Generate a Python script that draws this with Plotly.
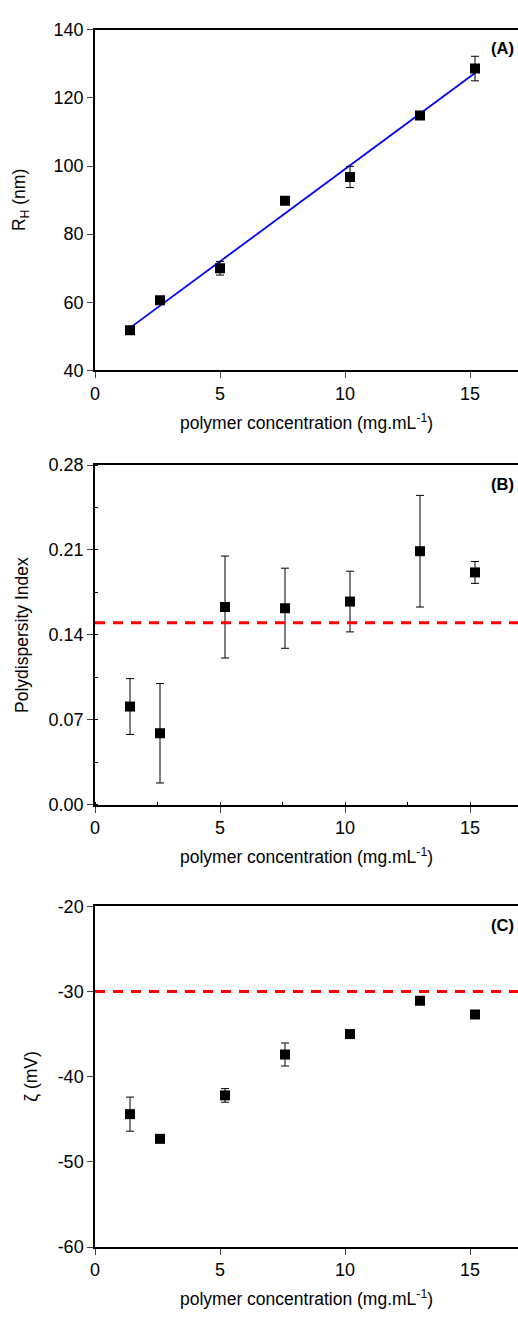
import numpy as np
import plotly.graph_objects as go

# ---- data ----
conc_a = [1.4, 2.6, 5.0, 7.6, 10.2, 13.0, 15.2]
rh = [51.8, 60.6, 70.0, 89.8, 96.8, 114.8, 128.6]
rh_err = [0.8, 0.8, 2.0, 0.5, 3.1, 1.0, 3.6]

conc = [1.4, 2.6, 5.2, 7.6, 10.2, 13.0, 15.2]
pdi = [0.081, 0.059, 0.163, 0.162, 0.1675, 0.209, 0.1915]
pdi_err = [0.023, 0.041, 0.042, 0.033, 0.025, 0.046, 0.009]
pdi_ref = 0.15

zeta = [-44.4, -47.3, -42.2, -37.4, -35.0, -31.1, -32.7]
zeta_err = [2.0, 0.3, 0.8, 1.35, 0.3, 0.3, 0.3]
zeta_ref = -30

xticks = [0, 5, 10, 15]
ticks_a = [40, 60, 80, 100, 120, 140]
ticks_b = [0.00, 0.07, 0.14, 0.21, 0.28]
ticks_c = [-60, -50, -40, -30, -20]

W, H = 518, 1326
L = 95
FONT = "Liberation Sans, Arial, sans-serif"

# pixel layout (top, bottom) of each panel
panels = [(20, 366), (462, 807), (910, 1256)]

fig = go.Figure()

def dom(t, b):
    return [1 - b / H, 1 - t / H]

# fit line for panel A
coef = np.polyfit(conc_a, rh, 1)
fit_x = [conc_a[0], conc_a[-1]]
fit_y = list(np.polyval(coef, fit_x))

marker = dict(symbol="square", size=10, color="black")
def err(e):
    return dict(type="data", array=e, visible=True, color="black", thickness=1, width=4)

fig.add_trace(go.Scatter(x=fit_x, y=fit_y, mode="lines", line=dict(color="#0000ff", width=1.8),
                         xaxis="x", yaxis="y", showlegend=False, hoverinfo="skip"))
fig.add_trace(go.Scatter(x=conc_a, y=rh, mode="markers", marker=marker, error_y=err(rh_err),
                         xaxis="x", yaxis="y", showlegend=False))
fig.add_trace(go.Scatter(x=conc, y=pdi, mode="markers", marker=marker, error_y=err(pdi_err),
                         xaxis="x2", yaxis="y2", showlegend=False))
fig.add_trace(go.Scatter(x=conc, y=zeta, mode="markers", marker=marker, error_y=err(zeta_err),
                         xaxis="x3", yaxis="y3", showlegend=False))

xrange_ = [0, (W - L) / 25.0]
tickfont = dict(family=FONT, size=18, color="black")

common_x = dict(range=xrange_, tickvals=xticks, ticks="outside", ticklen=6, tickwidth=1.2,
                showline=True, linecolor="black", linewidth=1.5, mirror=True,
                showgrid=False, zeroline=False, tickfont=tickfont, domain=[0, 1], fixedrange=True)
common_y = dict(ticks="outside", ticklen=6, tickwidth=1.2, showline=True, linecolor="black",
                linewidth=1.5, mirror=False, showgrid=False, zeroline=False, tickfont=tickfont)

fig.update_layout(
    xaxis=dict(**common_x, anchor="y"),
    yaxis=dict(**common_y, range=[40, 140], tickvals=ticks_a,
               ticktext=[str(v) for v in ticks_a], domain=dom(*panels[0]), anchor="x"),
    xaxis2=dict(**common_x, anchor="y2",
                minor=dict(dtick=2.5, ticks="inside", ticklen=3, tickcolor="black")),
    yaxis2=dict(**common_y, range=[0, 0.28], tickvals=ticks_b,
                ticktext=["%.2f" % v for v in ticks_b],
                domain=dom(*panels[1]), anchor="x2",
                minor=dict(dtick=0.035, ticks="inside", ticklen=3, tickcolor="black")),
    xaxis3=dict(**common_x, anchor="y3"),
    yaxis3=dict(**common_y, range=[-60, -20], tickvals=ticks_c,
                ticktext=[str(v) for v in ticks_c], domain=dom(*panels[2]), anchor="x3"),
)

# reference dashed lines
dash = dict(color="#ff0000", width=3, dash="10px,8px")
fig.add_shape(type="line", xref="x2 domain", yref="y2", x0=0, x1=1, y0=pdi_ref, y1=pdi_ref, line=dash)
fig.add_shape(type="line", xref="x3 domain", yref="y3", x0=0, x1=1, y0=zeta_ref, y1=zeta_ref, line=dash)

def px(xp):
    return (xp - L) / (W - L)

def py(yp):
    return 1 - yp / H

xtitle = "polymer concentration (mg.mL<sup>-1</sup>)"
tfont = dict(family=FONT, size=17.5, color="black")
ann = []
for (t, b), lab in zip(panels, ["(A)", "(B)", "(C)"]):
    ann.append(dict(text=xtitle, xref="paper", yref="paper", x=px(306.5), y=py(b + 52),
                    xanchor="center", yanchor="middle", showarrow=False, font=tfont))
    ann.append(dict(text="<b>%s</b>" % lab, xref="paper", yref="paper", x=px(516), y=py(t + 19),
                    xanchor="right", yanchor="middle", showarrow=False,
                    font=dict(family=FONT, size=16.5, color="black")))

ytitles = [("R<sub>H</sub> (nm)", 20), ("Polydispersity Index", 22), ("ζ (mV)", 31)]
for (t, b), (txt, xc) in zip(panels, ytitles):
    ann.append(dict(text=txt, xref="paper", yref="paper", x=px(xc), y=py((t + b) / 2),
                    xanchor="center", yanchor="middle", showarrow=False, textangle=-90, font=tfont))

fig.update_layout(annotations=ann, width=W, height=H,
                  margin=dict(l=L, r=0, t=0, b=0),
                  paper_bgcolor="white", plot_bgcolor="white",
                  font=dict(family=FONT, color="black"))

fig.write_html("out.html", config={"displayModeBar": False},
               post_script="document.body.style.margin='0';document.body.style.overflow='hidden';")
